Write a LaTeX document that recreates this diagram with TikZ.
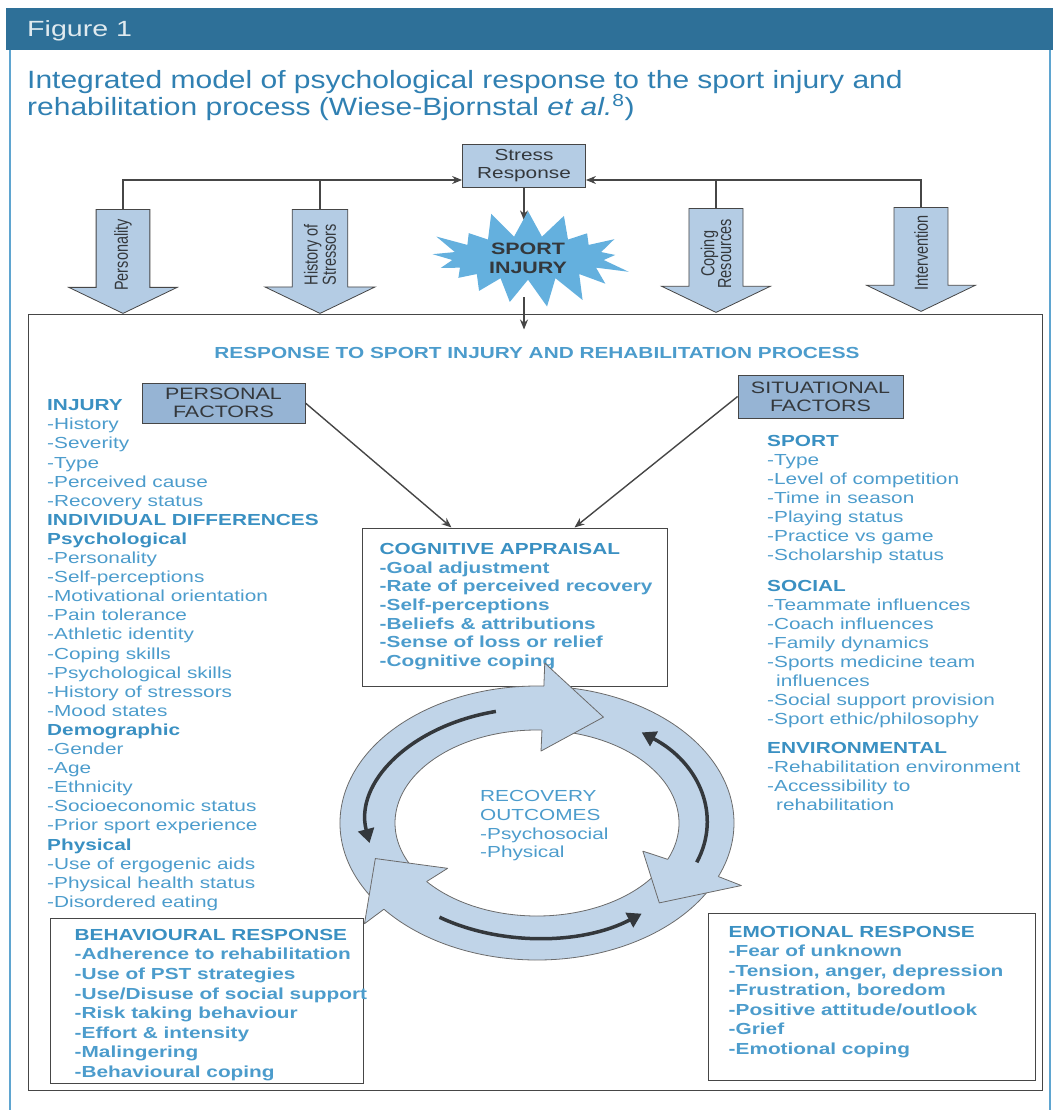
\documentclass[tikz,border=0pt]{standalone}
\usepackage{fontspec}
\setmainfont{Liberation Sans}[FakeStretch = 1.3]
\newfontfamily\titlefont{Liberation Sans}[FakeStretch = 1.2]
\newfontfamily\rotfont{Liberation Sans}
\usetikzlibrary{arrows.meta,calc,shapes.arrows,shapes.symbols}

\definecolor{headblue}{RGB}{46,112,152}
\definecolor{titleblue}{RGB}{48,128,178}
\definecolor{textblue}{RGB}{76,156,204}
\definecolor{boldblue}{RGB}{58,144,194}
\definecolor{stressfill}{RGB}{180,204,228}
\definecolor{factorfill}{RGB}{150,180,212}
\definecolor{ringfill}{RGB}{192,212,232}
\definecolor{burstfill}{RGB}{100,176,222}
\definecolor{frameblue}{RGB}{95,165,208}
\definecolor{linegray}{RGB}{70,70,70}
\definecolor{inkgray}{RGB}{52,56,60}

\newcommand{\listhead}[1]{{\bfseries\color{boldblue}#1}}

\tikzset{
  conn/.style = {draw = linegray, line width = 1.1pt},
  connarr/.style = {conn, -{Stealth[length = 10pt, width = 8pt]}},
  framebox/.style = {draw = linegray, line width = 1pt, inner sep = 0pt, fill = white},
  factorbox/.style = {draw = linegray, line width = 0.8pt, fill = factorfill, align = center, inner sep = 0pt, text = inkgray, font = \fontsize{16.5}{18}\selectfont},
  blockarrow/.style = {single arrow, draw = linegray, line width = 0.8pt, fill = stressfill, rotate = 90, shape border rotate = 180, yscale = 1.3, single arrow head extend = 21pt, single arrow tip angle = 116, single arrow head indent = 0pt, minimum height = 104pt, minimum width = 83pt, inner xsep = 1pt, align = center, anchor = tail, text = inkgray, font = \rotfont\fontsize{14.5}{13}\selectfont},
  listtext/.style = {anchor = north west, align = left, inner sep = 0pt, text = textblue},
  ringbody/.style = {fill = ringfill, draw = linegray!80, line width = 0.8pt},
  cyclearrow/.style = {draw = inkgray, line width = 3.5pt, -{Triangle[length = 14pt, width = 16pt]}}
}

\begin{document}
\begin{tikzpicture}[x = 1pt, y = -1pt]
    \useasboundingbox (0,0) rectangle (1053,1110);
    \fill[headblue] (6,8) rectangle (1053,50);
    \draw[frameblue, line width = 1.5pt] (10,50) -- (10,1110);
    \draw[frameblue, line width = 1.5pt] (1050,50) -- (1050,1110);
    \node[anchor = base west, inner sep = 0pt, text = white!85!headblue, font = \fontsize{22}{24}\selectfont] (figlabel) at (27,37) {Figure 1};
    \node[anchor = north west, align = left, inner sep = 0pt, text = titleblue, font = \titlefont\fontsize{25}{25}\selectfont] (title) at (27,70)
      {Integrated model of psychological response to the sport injury and\\rehabilitation process (Wiese-Bjornstal \textit{et al.}\textsuperscript{8})};

    \node[framebox, fill = none, minimum width = 1014pt, minimum height = 776pt] (mainbox) at (535,702) {};

    \node[draw = linegray, line width = 0.8pt, fill = stressfill, align = center, inner sep = 0pt, minimum width = 123pt, minimum height = 43pt, text = inkgray, font = \fontsize{16}{18.5}\selectfont] (stress) at (524,165.5) {Stress\\Response};
    \node[blockarrow, inner ysep = 13.5pt] (pers) at (123,209) {Personality};
    \node[blockarrow, inner ysep = 8.6pt] (hist) at (320,209) {History of\\Stressors};
    \node[blockarrow, inner ysep = 8.6pt] (cope) at (716,208) {Coping\\Resources};
    \node[blockarrow, inner ysep = 15pt] (interv) at (921,207) {Intervention};
    \coordinate (lin) at ([yshift = -14.5pt]stress.west);
    \coordinate (rin) at ([yshift = -14.5pt]stress.east);
    \draw[connarr] (pers.tail) |- (lin);
    \draw[conn] (hist.tail) -- (hist.tail |- lin);
    \draw[connarr] (interv.tail) |- (rin);
    \draw[conn] (cope.tail) -- (cope.tail |- rin);

    \coordinate (boxin) at ($(mainbox.north -| stress.south) + (0,16)$);
    \draw[connarr] (stress.south) -- ++(0,33);
    \draw[connarr] ($(stress.south) + (0,110)$) -- (boxin);
    \node[starburst, fill = burstfill, starburst points = 17, starburst point height = 30pt, random starburst = 4, minimum width = 212pt, minimum height = 90pt, inner sep = 0pt, align = center, text = inkgray, font = \bfseries\fontsize{16.5}{19}\selectfont] (injury) at (528,258) {SPORT\\INJURY};

    \node[anchor = base, inner sep = 0pt, text = textblue, font = \bfseries\fontsize{16}{18}\selectfont] (resp) at (537,358) {RESPONSE TO SPORT INJURY AND REHABILITATION PROCESS};
    \node[factorbox, minimum width = 163pt, minimum height = 40pt] (personal) at (223.5,403) {PERSONAL\\FACTORS};
    \node[factorbox, minimum width = 165pt, minimum height = 43pt] (situational) at (820.5,396.5) {SITUATIONAL\\FACTORS};

    \node[framebox, minimum width = 305pt, minimum height = 158pt] (cog) at (514.5,607) {};
    \draw[connarr, line width = 1.4pt] (personal.east) -- ([xshift = 90pt]cog.north west);
    \draw[connarr, line width = 1.4pt] (situational.west) -- ([xshift = 213pt]cog.north west);
    \node[listtext, font = \bfseries\fontsize{16}{18.7}\selectfont] (cogtext) at ([xshift = 18pt, yshift = -15.5pt]cog.north west)
      {\color{boldblue}COGNITIVE APPRAISAL\\-Goal adjustment\\-Rate of perceived recovery\\-Self-perceptions\\-Beliefs \& attributions\\-Sense of loss or relief\\-Cognitive coping};

    \node[listtext, font = \fontsize{16}{19.1}\selectfont] (injurylist) at (47,399.5)
      {\listhead{INJURY}\\-History\\-Severity\\-Type\\-Perceived cause\\-Recovery status\\\listhead{INDIVIDUAL DIFFERENCES}\\\listhead{Psychological}\\-Personality\\-Self-perceptions\\-Motivational orientation\\-Pain tolerance\\-Athletic identity\\-Coping skills\\-Psychological skills\\-History of stressors\\-Mood states\\\listhead{Demographic}\\-Gender\\-Age\\-Ethnicity\\-Socioeconomic status\\-Prior sport experience\\\listhead{Physical}\\-Use of ergogenic aids\\-Physical health status\\-Disordered eating};

    \node[listtext, font = \fontsize{16}{19}\selectfont] (sitlist) at (767,435.5)
      {\listhead{SPORT}\\-Type\\-Level of competition\\-Time in season\\-Playing status\\-Practice vs game\\-Scholarship status\\[12pt]\listhead{SOCIAL}\\-Teammate influences\\-Coach influences\\-Family dynamics\\-Sports medicine team\\\hspace*{9pt}influences\\-Social support provision\\-Sport ethic/philosophy\\[10pt]\listhead{ENVIRONMENTAL}\\-Rehabilitation environment\\-Accessibility to\\\hspace*{9pt}rehabilitation};

    \node[framebox, minimum width = 313pt, minimum height = 165pt] (behav) at (206.5,1000.5) {};
    \node[listtext, font = \bfseries\fontsize{16}{19.6}\selectfont] (behavtext) at ([xshift = 25pt, yshift = -11.5pt]behav.north west)
      {\color{boldblue}BEHAVIOURAL RESPONSE\\-Adherence to rehabilitation\\-Use of PST strategies\\-Use/Disuse of social support\\-Risk taking behaviour\\-Effort \& intensity\\-Malingering\\-Behavioural coping};
    \node[framebox, minimum width = 327pt, minimum height = 167pt] (emo) at (871.5,996.5) {};
    \node[listtext, font = \bfseries\fontsize{16}{19.5}\selectfont] (emotext) at ([xshift = 21pt, yshift = -13.5pt]emo.north west)
      {\color{boldblue}EMOTIONAL RESPONSE\\-Fear of unknown\\-Tension, anger, depression\\-Frustration, boredom\\-Positive attitude/outlook\\-Grief\\-Emotional coping};

    \coordinate (ringc) at (537,823);
    \foreach \s/\b in {147/272, 278/383, 29/141} {
      \filldraw[ringbody] ($(ringc)+(\s:197 and 137)$) arc[start angle = \s, end angle = \b+2, x radius = 197, y radius = 137]
        -- ($(ringc)+({\b+2}:142 and 93)$) arc[start angle = \b+2, end angle = \s, x radius = 142, y radius = 93] -- cycle;
    }
    \foreach \b/\t in {272/293, 383/404, 141/162} {
      \fill[ringfill] ($(ringc)+(\b:197 and 137)$) -- ($(ringc)+(\b:222 and 160)$) -- ($(ringc)+(\t:170 and 115)$)
        -- ($(ringc)+(\b:115 and 72)$) -- ($(ringc)+(\b:142 and 93)$) -- cycle;
      \draw[draw = linegray!80, line width = 0.8pt, line join = round] ($(ringc)+(\b:197 and 137)$) -- ($(ringc)+(\b:222 and 160)$)
        -- ($(ringc)+(\t:170 and 115)$) -- ($(ringc)+(\b:115 and 72)$) -- ($(ringc)+(\b:142 and 93)$);
    }
    \draw[cyclearrow] ($(ringc)+(256:170 and 115)$) arc[start angle = 256, end angle = 170, x radius = 170, y radius = 115];
    \draw[cyclearrow] ($(ringc)+(20:170 and 115)$) arc[start angle = 20, end angle = -52, x radius = 170, y radius = 115];
    \draw[cyclearrow] ($(ringc)+(125:170 and 115)$) arc[start angle = 125, end angle = 52, x radius = 170, y radius = 115];

    \node[listtext, font = \fontsize{16}{18.7}\selectfont] (recov) at (480,790.5)
      {RECOVERY\\OUTCOMES\\-Psychosocial\\-Physical};
\end{tikzpicture}
\end{document}
